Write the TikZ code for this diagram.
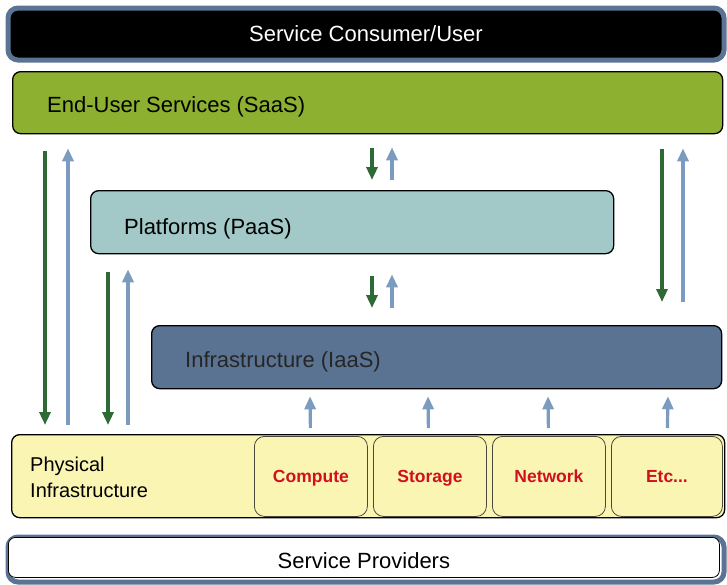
\documentclass[tikz,border=0pt]{standalone}
\usepackage{fontspec}
\setmainfont{Liberation Sans}
\usetikzlibrary{arrows.meta,calc}
\definecolor{slate}{HTML}{5B7494}
\definecolor{saasgreen}{HTML}{8DB030}
\definecolor{paasteal}{HTML}{A2C8C8}
\definecolor{iaasblue}{HTML}{5A7393}
\definecolor{physyellow}{HTML}{FBF5B4}
\definecolor{resred}{HTML}{D0101E}
\definecolor{resedge}{HTML}{4A4A3C}
\definecolor{agreen}{HTML}{2E6A36}
\definecolor{ablue}{HTML}{7B9BBF}
\begin{document}
\begin{tikzpicture}[x=1pt,y=-1pt,
  box/.style={draw=black, line width=1.3pt, rounded corners=8pt, inner sep=0pt, anchor=north west},
  lbl/.style={font=\fontsize{22}{26}\selectfont, inner sep=0pt, anchor=base west},
  res/.style={draw=resedge, line width=0.8pt, rounded corners=10pt, fill=physyellow,
    anchor=north west, minimum height=80pt, inner sep=0pt, text height=12.6pt, text depth=0pt,
    font=\bfseries\fontsize{17.5}{20}\selectfont, text=resred},
  down/.style={draw=agreen, line width=3.2pt, -{Triangle[width=11pt,length=13pt]}},
  up/.style={draw=ablue, line width=3.2pt, -{Triangle[width=11pt,length=13pt]}}]
\useasboundingbox (0,0) rectangle (727,584);

% consumer bar
\node[box, draw=slate, line width=5pt, fill=black, rounded corners=10pt,
  minimum width=716pt, minimum height=52pt, text=white, text height=15.8pt, text depth=0pt,
  font=\fontsize{22}{26}\selectfont] (user) at (5.5,5.5) {Service Consumer/User};

% service layers
\node[box, fill=saasgreen, minimum width=710pt, minimum height=62pt] (saas) at (12,71) {};
\node[lbl] (saastxt) at (47,112) {End-User Services (SaaS)};

\node[box, fill=paasteal, minimum width=523pt, minimum height=63pt] (paas) at (90,190) {};
\node[lbl] (paastxt) at (124,234) {Platforms (PaaS)};

\node[box, fill=iaasblue, minimum width=570pt, minimum height=63pt] (iaas) at (151,325) {};
\node[lbl, text=black!85] (iaastxt) at (185,367) {Infrastructure (IaaS)};

% physical infrastructure
\node[box, fill=physyellow, minimum width=713pt, minimum height=83pt] (phys) at (11,434) {};
\node[font=\fontsize{20}{26}\selectfont, inner sep=0pt, anchor=base west, align=left] (phystxt) at (30,497) {Physical\\Infrastructure};
\node[res, minimum width=113pt] (compute) at (254,436) {Compute};
\node[res, minimum width=113pt] (storage) at (373,436) {Storage};
\node[res, minimum width=113pt] (network) at (492,436) {Network};
\node[res, minimum width=111pt] (etc) at (611,436) {Etc...};

% provider bar
\node[box, draw=slate, line width=5pt, fill=white, rounded corners=10pt,
  minimum width=716pt, minimum height=45pt] (prov) at (5.5,534.5) {};
\node[box, draw=black, line width=0.8pt, fill=white, rounded corners=7pt,
  minimum width=711pt, minimum height=40pt, text height=15.8pt, text depth=0pt,
  font=\fontsize{22}{26}\selectfont] (provtxt) at (8,537) {\raisebox{-3pt}{Service Providers}};

% long arrows on the left
\draw[down] ($(saas.south west)+(33,17)$) -- ($(phys.north west)+(34,-9)$);
\draw[up] ($(phys.north west)+(57,-9)$) -- ($(saas.south west)+(56,14)$);
\draw[down] ($(paas.south west)+(18,18)$) -- ($(phys.north west)+(97,-9)$);
\draw[up] ($(phys.north west)+(117,-9)$) -- ($(paas.south west)+(38,15)$);

% short arrows in the middle
\draw[down] ($(saas.south west)+(360,14)$) -- ($(paas.north west)+(282,-10)$);
\draw[up] ($(paas.north west)+(302,-10)$) -- ($(saas.south west)+(380,13)$);
\draw[down] ($(paas.south west)+(282,22)$) -- ($(iaas.north west)+(221,-17)$);
\draw[up] ($(iaas.north west)+(241,-17)$) -- ($(paas.south west)+(302,20)$);

% arrows on the right
\draw[down] ($(saas.south west)+(650,15)$) -- ($(iaas.north west)+(511,-23)$);
\draw[up] ($(iaas.north west)+(532,-23)$) -- ($(saas.south west)+(671,14)$);

% resources feeding the infrastructure layer
\draw[up] ($(compute.north)+(-0.5,-8)$) -- ($(iaas.south west)+(159,7)$);
\draw[up] ($(storage.north)+(-1.5,-8)$) -- ($(iaas.south west)+(277,7)$);
\draw[up] ($(network.north)+(-0.5,-8)$) -- ($(iaas.south west)+(397,7)$);
\draw[up] ($(etc.north)+(0.5,-8)$) -- ($(iaas.south west)+(517,7)$);
\end{tikzpicture}
\end{document}
